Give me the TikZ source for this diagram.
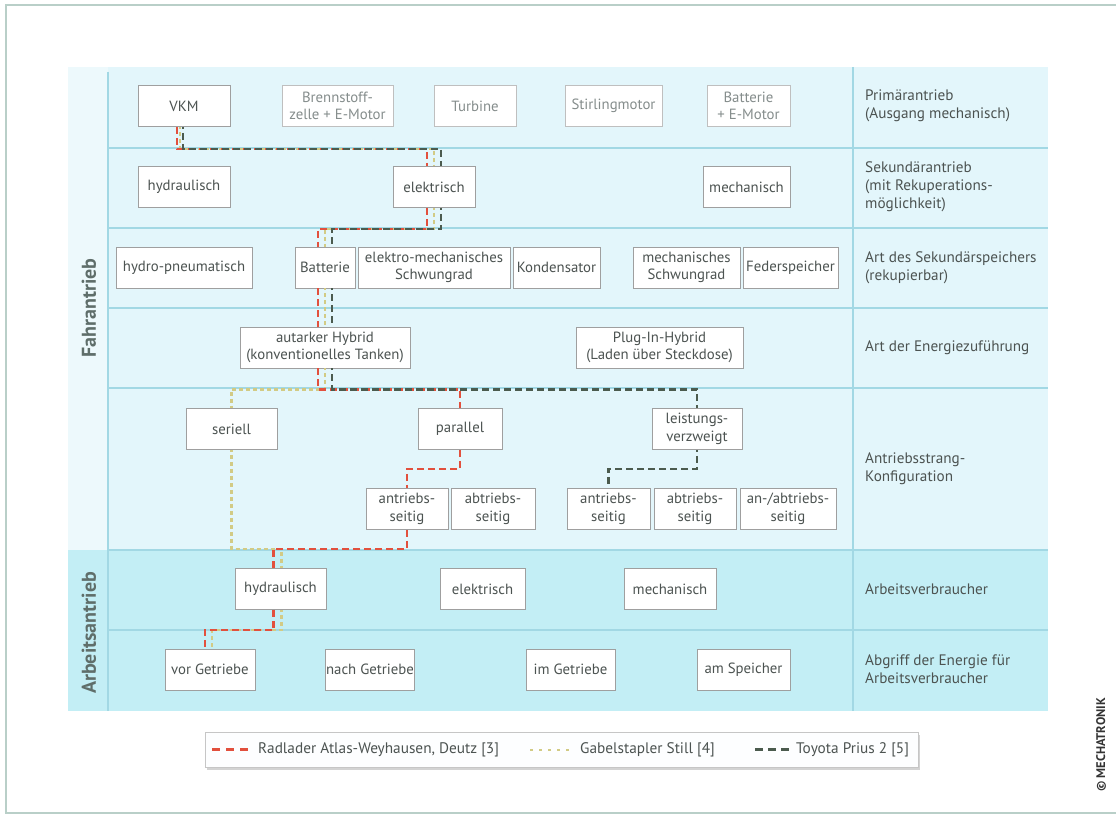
\documentclass[tikz,border=0pt]{standalone}
\usepackage{fontspec}
\setmainfont{PT Sans}
\usetikzlibrary{calc, positioning, shadows}
\definecolor{r1}{HTML}{E2503D}
\definecolor{y1}{HTML}{D2CB85}
\definecolor{g1}{HTML}{4B5B4E}
\definecolor{bg}{HTML}{E3F6FB}
\definecolor{bgl}{HTML}{EDF9FC}
\definecolor{bg2}{HTML}{C3EEF5}
\definecolor{ln}{HTML}{A2D8E4}
\definecolor{t}{HTML}{4C5351}
\definecolor{tl}{HTML}{858D8C}
\definecolor{fr}{HTML}{B9CFC8}
\definecolor{hd}{HTML}{5F6E6A}

\begin{document}
\begin{tikzpicture}[x=1pt, y=-1pt,
	box/.style={draw=gray!75, line width=0.8pt, fill=white, text=t, align=center,
		font=\fontsize{14.8}{17.5}\selectfont, inner sep=1pt, minimum height=41pt},
	faded/.style={box, draw=gray!50, text=tl},
	lbl/.style={anchor=west, align=left, text=t, font=\fontsize{15.2}{18}\selectfont, inner sep=0pt},
	side/.style={rotate=90, text=hd, font=\bfseries\fontsize{20}{22}\selectfont},
	radl/.style={draw=r1, line width=2.8pt, dash pattern=on 7pt off 4pt},
	gabl/.style={draw=y1, line width=2.8pt, dash pattern=on 4pt off 3pt, dash phase=2pt},
	prius/.style={draw=g1, line width=2.8pt, dash pattern=on 7pt off 4pt, dash phase=5pt}
]
	\useasboundingbox (0,0) rectangle (1116,816);
	\draw[fr, line width=1.6pt] (6,5) rectangle (1130,813);

	% Hintergrund
	\fill[bg] (68,67) rectangle (1048,550);
	\fill[bgl] (68,67) rectangle (108,550);
	\fill[bg2] (68,550) rectangle (1048,711);
	\foreach \y in {148,228,308,388,550,630}
		\draw[ln, line width=1.1pt] (108,\y) -- (1048,\y);
	\draw[ln, line width=1.1pt] (108,72) -- (108,711);
	\draw[ln, line width=1.1pt] (853,67) -- (853,711);

	\node[side] (Fahr) at (89,308) {Fahrantrieb};
	\node[side] (Arb) at (89,633) {Arbeitsantrieb};

	% Primaerantrieb
	\node[box, minimum width=92pt] (VKM) at (184,106) {VKM};
	\node[faded, minimum width=111pt] (BZ) at (337.5,106) {Brennstoff-\\zelle + E-Motor};
	\node[faded, minimum width=82pt] (Turb) at (475,106) {Turbine};
	\node[faded, minimum width=97pt] (Stir) at (613.5,106) {Stirlingmotor};
	\node[faded, minimum width=83pt] (BatM) at (748.5,106) {Batterie\\+ E-Motor};

	% Sekundaerantrieb
	\node[box, minimum width=92pt] (Hyd) at (184,187) {hydraulisch};
	\node[box, minimum width=82pt] (Elek) at (434,187) {elektrisch};
	\node[box, minimum width=87pt] (Mech) at (746.5,187) {mechanisch};

	% Sekundaerspeicher
	\node[box, minimum width=136pt] (HPn) at (184,267.5) {hydro-pneumatisch};
	\node[box, minimum width=60pt] (Batt) at (325,267.5) {Batterie};
	\node[box, minimum width=152pt] (EMS) at (434,267.5) {elektro-mechanisches\\Schwungrad};
	\node[box, minimum width=87pt] (Kond) at (556.5,267.5) {Kondensator};
	\node[box, minimum width=107pt] (MSw) at (686.5,267.5) {mechanisches\\Schwungrad};
	\node[box, minimum width=95pt] (Feder) at (790.5,267.5) {Federspeicher};

	% Energiezufuehrung
	\node[box, minimum width=170pt] (Auta) at (325,347.5) {autarker Hybrid\\(konventionelles Tanken)};
	\node[box, minimum width=167pt] (Plug) at (659.5,347.5) {Plug-In-Hybrid\\(Laden über Steckdose)};

	% Antriebsstrang
	\node[box, minimum width=91pt] (Ser) at (231.5,429) {seriell};
	\node[box, minimum width=84pt] (Par) at (460,429) {parallel};
	\node[box, minimum width=90pt] (Leis) at (697,429) {leistungs-\\verzweigt};
	\node[box, minimum width=82pt] (AntrA) at (407,509) {antriebs-\\seitig};
	\node[box, minimum width=84pt] (AbtrA) at (493,509) {abtriebs-\\seitig};
	\node[box, minimum width=83pt] (AntrB) at (608.5,509) {antriebs-\\seitig};
	\node[box, minimum width=82pt] (AbtrB) at (695,509) {abtriebs-\\seitig};
	\node[box, minimum width=96pt] (AnAb) at (788,509) {an-/abtriebs-\\seitig};

	% Arbeitsverbraucher
	\node[box, minimum width=91pt] (HydA) at (280.5,589) {hydraulisch};
	\node[box, minimum width=85pt] (ElekA) at (482.5,589) {elektrisch};
	\node[box, minimum width=92pt] (MechA) at (670,589) {mechanisch};

	% Abgriff
	\node[box, minimum width=90pt] (Vor) at (210,669.5) {vor Getriebe};
	\node[box, minimum width=88pt] (Nach) at (370,669.5) {nach Getriebe};
	\node[box, minimum width=89pt] (Im) at (570.5,669.5) {im Getriebe};
	\node[box, minimum width=93pt] (Am) at (743.5,669.5) {am Speicher};

	% Ebenen
	\node[lbl] (L1) at (865,106) {Primärantrieb\\(Ausgang mechanisch)};
	\node[lbl] (L2) at (865,187) {Sekundärantrieb\\(mit Rekuperations-\\möglichkeit)};
	\node[lbl] (L3) at (865,267.5) {Art des Sekundärspeichers\\(rekupierbar)};
	\node[lbl] (L4) at (865,348) {Art der Energiezuführung};
	\node[lbl] (L5) at (865,469) {Antriebsstrang-\\Konfiguration};
	\node[lbl] (L6) at (865,589) {Arbeitsverbraucher};
	\node[lbl] (L7) at (865,669.5) {Abgriff der Energie für\\Arbeitsverbraucher};

	% Gabelstapler Still
	\draw[gabl] ($(VKM.south)+(-4,0)$) -- ++(0,22) -| (Elek.north);
	\draw[gabl] (Elek.south) -- ++(0,21) -| (Batt.north);
	\draw[gabl] (Batt.south) -- (Auta.north);
	\draw[gabl] (Auta.south) -- ++(0,21) -| (Ser.north);
	\draw[gabl] (Ser.south) -- ++(0,99) -| ($(HydA.north)+(1,0)$);
	\draw[gabl] ($(HydA.south)+(1,0)$) -- ++(0,20) -| ($(Vor.north)+(2,0)$);

	% Radlader
	\draw[radl] ($(VKM.south)+(-7,0)$) -- ++(0,22) -| ($(Elek.north)+(-7,0)$);
	\draw[radl] ($(Elek.south)+(-7,0)$) -- ++(0,21) -| ($(Batt.north)+(-7,0)$);
	\draw[radl] ($(Batt.south)+(-7,0)$) -- ($(Auta.north)+(-7,0)$);
	\draw[radl] ($(Auta.south)+(-7,0)$) -- ++(0,21) -| (Par.north);
	\draw[radl] (Par.south) -- ++(0,19) -| (AntrA.north);
	\draw[radl] (AntrA.south) -- ++(0,19) -| ($(HydA.north)+(-7,0)$);
	\draw[radl] ($(HydA.south)+(-7,0)$) -- ++(0,20) -| ($(Vor.north)+(-5,0)$);

	% Toyota Prius
	\draw[prius] ($(VKM.south)+(-1,0)$) -- ++(0,22) -| ($(Elek.north)+(7,0)$);
	\draw[prius] ($(Elek.south)+(7,0)$) -- ++(0,21) -| ($(Batt.north)+(7,0)$);
	\draw[prius] ($(Batt.south)+(7,0)$) -- ($(Auta.north)+(7,0)$);
	\draw[prius] ($(Auta.south)+(7,0)$) -- ++(0,21) -| (Leis.north);
	\draw[prius] (Leis.south) -- ++(0,19) -| (AntrB.north);

	% Legende
	\node[draw=gray!45, fill=white!92!bg, minimum width=713pt, minimum height=35pt,
		drop shadow={shadow xshift=2pt, shadow yshift=-3pt, opacity=0.35}] (Leg) at (561.5,749.5) {};
	\node[lbl, font=\fontsize{15.3}{17}\selectfont] (T1) at (258,749.5) {Radlader Atlas-Weyhausen, Deutz [3]};
	\node[lbl, font=\fontsize{15.3}{17}\selectfont] (T2) at (580,749.5) {Gabelstapler Still [4]};
	\node[lbl, font=\fontsize{15.3}{17}\selectfont] (T3) at (796,749.5) {Toyota Prius 2 [5]};
	\draw[radl, dash pattern=on 8pt off 6pt] ($(T1.west)+(-46,0)$) -- ($(T1.west)+(-6,0)$);
	\draw[gabl, line width=2pt, dash phase=0pt, dash pattern=on 3pt off 6pt] ($(T2.west)+(-50,0)$) -- ($(T2.west)+(-8,0)$);
	\draw[prius, dash pattern=on 8pt off 5pt, dash phase=0pt] ($(T3.west)+(-41,0)$) -- ($(T3.west)+(-6,0)$);

	\node[rotate=90, font=\bfseries\fontsize{12.5}{13}\selectfont, text=black!80] (Copy) at (1101,745) {© MECHATRONIK};
\end{tikzpicture}
\end{document}
